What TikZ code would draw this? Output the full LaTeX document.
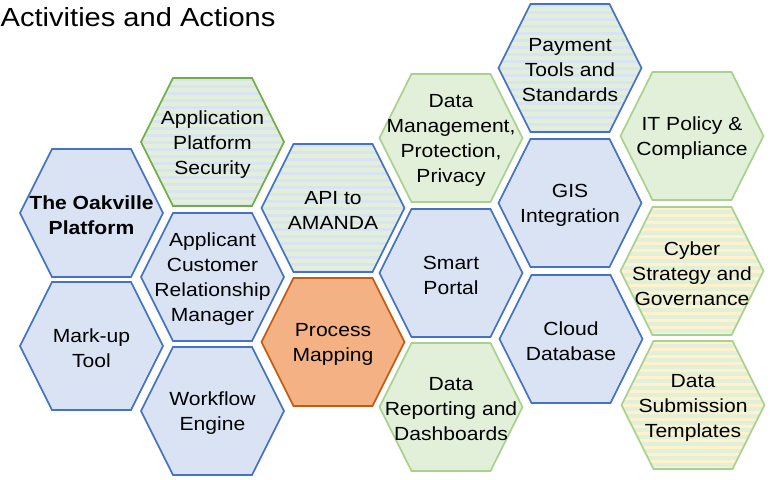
\documentclass[tikz,border=0pt]{standalone}
\usepackage{fontspec}
\setmainfont{Liberation Sans}[FakeStretch=1.11]
\definecolor{bluefill}{HTML}{DAE3F3}
\definecolor{blueline}{HTML}{4472C4}
\definecolor{greenfill}{HTML}{E2F0D9}
\definecolor{greenline}{HTML}{A9D18E}
\definecolor{darkgreenline}{HTML}{70AD47}
\definecolor{orangefill}{HTML}{F4B183}
\definecolor{orangeline}{HTML}{C55A11}
\definecolor{yellowfill}{HTML}{FFF2CC}
\tikzset{
  hexpath/.style={insert path={(-71.5,0) -- (-39.5,-64) -- (39.5,-64) -- (71.5,0) -- (39.5,64) -- (-39.5,64) -- cycle}},
  hexborder/.style={line width=1.6pt, line join=miter},
  celltext/.style={font=\fontsize{19}{25}\selectfont, align=center, text=black, inner sep=0pt, yshift=-2.5pt},
  titletext/.style={font=\fontsize{26.2}{30}\selectfont, anchor=base west, inner sep=0pt},
}
% plain hexagon: name, x, y, fill, border, text
\newcommand\hexcell[6]{%
  \begin{scope}[shift={(#2,#3)}]
    \fill[#4] (0,0) [hexpath];
    \draw[#5, hexborder] (0,0) [hexpath];
    \node[celltext] (#1) at (0,0) {#6};
  \end{scope}}
% hexagon with narrow horizontal stripes: name, x, y, background, stripe, border, text
\newcommand\hexstriped[7]{%
  \begin{scope}[shift={(#2,#3)}]
    \begin{scope}
      \clip (0,0) [hexpath];
      \fill[#4] (-75,-70) rectangle (75,70);
      \foreach \k in {-66,-59,...,66}
        \draw[#5, line width=3.5pt] (-75,\k) -- (75,\k);
    \end{scope}
    \draw[#6, hexborder] (0,0) [hexpath];
    \node[celltext] (#1) at (0,0) {#7};
  \end{scope}}
\begin{document}
\begin{tikzpicture}[x=1pt, y=-1pt]
\useasboundingbox (0,0) rectangle (775,479);
\node[titletext] (title) at (0.5,26) {Activities and Actions};
% column 1
\hexcell{oakville}{91.5}{213}{bluefill}{blueline}{\textbf{The Oakville}\\\textbf{Platform}}
\hexcell{markup}{91.5}{346}{bluefill}{blueline}{Mark-up\\Tool}
% column 2
\hexstriped{appsec}{212.5}{142}{bluefill}{greenfill}{darkgreenline}{Application\\Platform\\Security}
\hexcell{crm}{212.5}{277}{bluefill}{blueline}{Applicant\\Customer\\Relationship\\Manager}
\hexcell{workflow}{212.5}{411}{bluefill}{blueline}{Workflow\\Engine}
% column 3
\hexstriped{amanda}{333}{208}{bluefill}{greenfill}{blueline}{API to\\AMANDA}
\hexcell{process}{333}{342}{orangefill}{orangeline}{Process\\Mapping}
% column 4
\hexcell{datamgmt}{451}{138}{greenfill}{greenline}{Data\\Management,\\Protection,\\Privacy}
\hexcell{portal}{451}{273}{bluefill}{blueline}{Smart\\Portal}
\hexcell{reporting}{451}{407}{greenfill}{greenline}{Data\\Reporting and\\Dashboards}
% column 5
\hexstriped{payment}{570}{68}{bluefill}{greenfill}{blueline}{Payment\\Tools and\\Standards}
\hexcell{gis}{570}{203}{bluefill}{blueline}{GIS\\Integration}
\hexcell{cloud}{571}{339}{bluefill}{blueline}{Cloud\\Database}
% column 6
\hexcell{itpolicy}{692}{136}{greenfill}{greenline}{IT Policy \&\\Compliance}
\hexstriped{cyber}{692}{271}{yellowfill}{greenfill}{greenline}{Cyber\\Strategy and\\Governance}
\hexstriped{submission}{693}{405}{yellowfill}{greenfill}{greenline}{Data\\Submission\\Templates}
\end{tikzpicture}
\end{document}
